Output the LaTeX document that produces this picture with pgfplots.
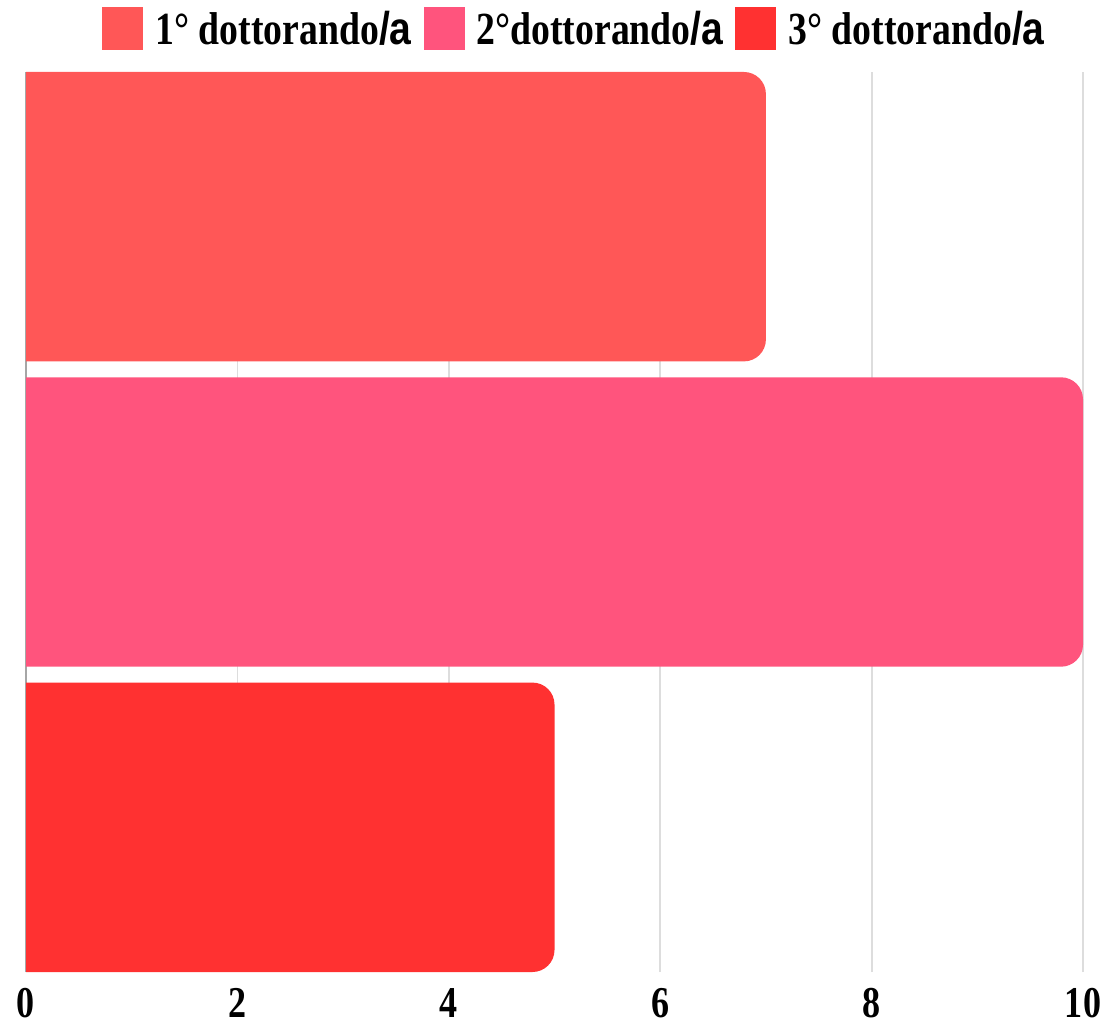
\documentclass[border=0pt]{standalone}
\usepackage{fontspec}
\setmainfont{Liberation Serif}[FakeStretch=0.82]
\newfontfamily\sansb{Liberation Sans}[FakeStretch=0.85]
\usepackage{pgfplots}
\pgfplotsset{compat=1.18}
\definecolor{c1}{HTML}{FF5757}
\definecolor{c2}{HTML}{FF547D}
\definecolor{c3}{HTML}{FF3131}
\definecolor{gridc}{HTML}{DDDDDD}
\begin{document}
\begin{tikzpicture}
\begin{axis}[
 scale only axis, width=528.5pt, height=450pt,
 xmin=0, xmax=10, ymin=-0.474, ymax=2.474,
 xtick={0,2,4,6,8,10}, ytick=\empty,
 axis lines*=left, axis line style={-},
 x axis line style={draw=none},
 y axis line style={draw=gray!70, line width=0.8pt},
 xmajorgrids, major grid style={draw=gridc, line width=0.9pt},
 major tick length=0pt,
 /pgf/number format/assume math mode=true,
 xticklabel style={font=\fontsize{22}{22}\selectfont\bfseries, inner sep=0pt, yshift=-8pt},
 legend columns=3,
 legend style={at={(rel axis cs:0,1)}, anchor=south west, xshift=38pt, yshift=11pt,
   draw=none, fill=none, inner sep=0pt,
   font=\fontsize{23}{23}\selectfont\bfseries,
   nodes={inner sep=0pt, anchor=base west},
   /tikz/every odd column/.style={column sep=6pt},
   /tikz/every even column/.style={column sep=6pt}},
 legend image code/.code={\fill[#1,sharp corners] (0pt,-2.5pt) rectangle (20.5pt,19pt);},
]
\addplot[fill=c1, draw=none, rounded corners=11pt] coordinates {(0,1.526) (7,1.526) (7,2.474) (0,2.474)};
\addlegendentry{1° dottorando{\sansb /a}}
\addplot[fill=c2, draw=none, rounded corners=11pt] coordinates {(0,0.526) (10,0.526) (10,1.474) (0,1.474)};
\addlegendentry{2°dottorando{\sansb /a}}
\addplot[fill=c3, draw=none, rounded corners=11pt] coordinates {(0,-0.474) (5,-0.474) (5,0.474) (0,0.474)};
\addlegendentry{3° dottorando{\sansb /a}}
\end{axis}
\path ([shift={(-13pt,-27pt)}]current axis.south west) rectangle ([shift={(17pt,36pt)}]current axis.north east);
\end{tikzpicture}
\end{document}
